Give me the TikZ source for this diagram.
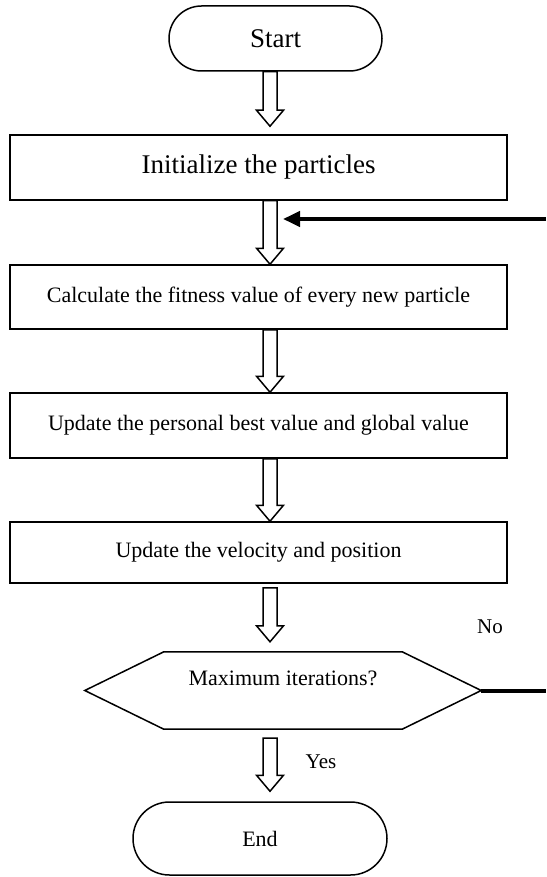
\documentclass[tikz,border=0pt]{standalone}
\usepackage{fontspec}
\setmainfont{Liberation Serif}
\usetikzlibrary{shapes.misc,arrows.meta,calc}
\def\ax{270pt}
% open block arrow: from, to, gap at start, gap before tip
\newcommand\hollowarrow[4]{%
	\draw[hollow] let \p1=(#1), \p2=(#2) in
	(\ax-7pt,\y1-#3pt) -- (\ax-7pt,\y2+#4pt+16pt) -- (\ax-13.5pt,\y2+#4pt+16pt)
	-- (\ax,\y2+#4pt) -- (\ax+13.5pt,\y2+#4pt+16pt) -- (\ax+7pt,\y2+#4pt+16pt)
	-- (\ax+7pt,\y1-#3pt) -- cycle;}
\begin{document}
\begin{tikzpicture}[x=1pt,y=-1pt,
	term/.style={rounded rectangle,draw,line width=1.5pt,inner sep=0pt,font=\fontsize{22}{26}\selectfont},
	box/.style={rectangle,draw,line width=1.5pt,minimum width=497pt,inner sep=0pt,font=\fontsize{22}{26}\selectfont},
	hollow/.style={draw,line width=1.5pt,fill=white},
	back/.style={line width=4pt}]
	\useasboundingbox (0,0) rectangle (546,877);
	\node[term,minimum width=213pt,minimum height=65pt,font=\fontsize{27}{32}\selectfont] (start) at (275.5,38.5) {Start};
	\node[box,minimum height=65pt,font=\fontsize{27}{32}\selectfont] (init) at (258.5,167.5) {Initialize the particles};
	\node[box,minimum height=64pt] (fit) at (258.5,297) {Calculate the fitness value of every new particle};
	\node[box,minimum height=65pt] (upd) at (258.5,425.5) {Update the personal best value and global value};
	\node[box,minimum height=61pt] (vel) at (258.5,552.5) {Update the velocity and position};
	\node[minimum width=396pt,minimum height=77pt,inner sep=0pt] (maxit) at (283,690.5) {};
	\draw[line width=1.5pt] (maxit.west) -- ($(maxit.north west)+(79,0)$) -- ($(maxit.north east)+(-79,0)$)
	-- (maxit.east) -- ($(maxit.south east)+(-79,0)$) -- ($(maxit.south west)+(79,0)$) -- cycle;
	\node[font=\fontsize{22}{26}\selectfont] (maxtext) at (283,678) {Maximum iterations?};
	\node[term,minimum width=254pt,minimum height=73pt] (stop) at (260,838.5) {End};
	\node[font=\fontsize{21}{25}\selectfont] (yes) at (321,762) {Yes};
	\node[font=\fontsize{21}{25}\selectfont] (no) at (490,627) {No};
	
	\hollowarrow{start.south}{init.north}{0}{8}
	\hollowarrow{init.south}{fit.north}{0}{0}
	\hollowarrow{fit.south}{upd.north}{0}{0}
	\hollowarrow{upd.south}{vel.north}{0}{0}
	\hollowarrow{vel.south}{maxit.north}{4}{10}
	\hollowarrow{maxit.south}{stop.north}{9}{10}
	
	\coordinate (rlow) at (546,690.5);
	\coordinate (rtop) at (546,219);
	\coordinate (loop) at (283,219);
	\draw[back] (maxit.east) -- (rlow);
	\draw[back,-{Triangle[length=17pt,width=15pt]}] (rtop) -- (loop);
\end{tikzpicture}
\end{document}
